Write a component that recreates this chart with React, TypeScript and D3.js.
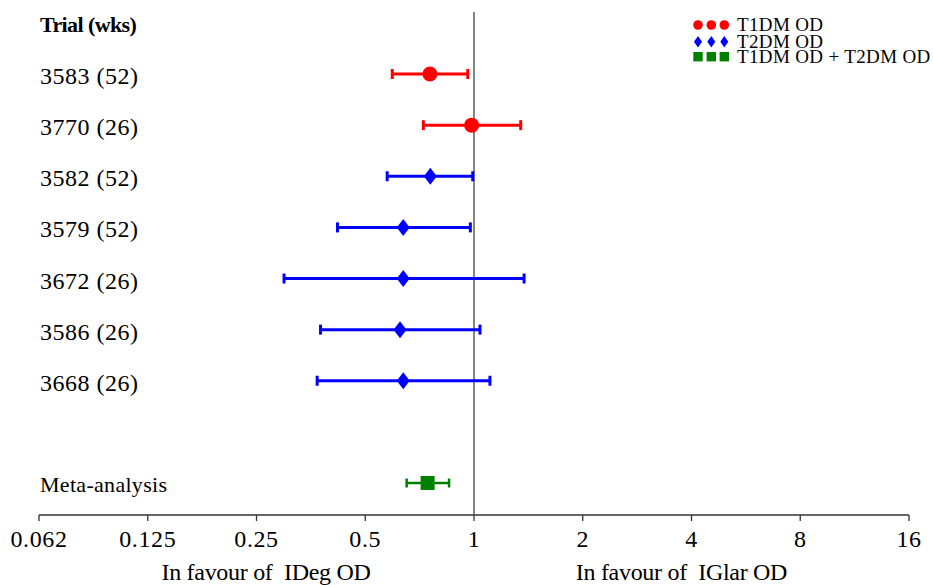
import React from "react";
import * as d3 from "d3";

const trials = ["3583 (52)", "3770 (26)", "3582 (52)", "3579 (52)", "3672 (26)", "3586 (26)", "3668 (26)"];
const groups = ["T1DM", "T1DM", "T2DM", "T2DM", "T2DM", "T2DM", "T2DM"];
const estimates = [0.755, 0.985, 0.757, 0.637, 0.637, 0.624, 0.637];
const lowerCI = [0.594, 0.724, 0.575, 0.419, 0.298, 0.376, 0.368];
const upperCI = [0.961, 1.347, 0.992, 0.977, 1.376, 1.039, 1.107];

const metaLabel = "Meta-analysis";
const metaEstimate = 0.744;
const metaLower = 0.651;
const metaUpper = 0.853;

const tickValues = [0.0625, 0.125, 0.25, 0.5, 1, 2, 4, 8, 16];
const tickLabels = ["0.062", "0.125", "0.25", "0.5", "1", "2", "4", "8", "16"];

const legendLabels = ["T1DM OD", "T2DM OD", "T1DM OD + T2DM OD"];

const W = 933;
const H = 585;
const FONT = "'Liberation Serif', 'Times New Roman', serif";
const RED = "#ff0000";
const BLUE = "#0000ff";
const GREEN = "#008000";

export default function App() {
  const x = d3.scaleLog().base(2).domain([0.0625, 16]).range([39, 909]);
  const y = d3.scaleLinear().domain([-1, 8]).range([22.9, 483]);
  const axisY = 515;
  const metaRow = 8;

  const diamond = (cx: number, cy: number, hw: number, hh: number) =>
    `M${cx},${cy - hh}L${cx + hw},${cy}L${cx},${cy + hh}L${cx - hw},${cy}Z`;

  const errorBar = (lo: number, hi: number, cy: number, color: string, sw: number, capH: number, key: string) => (
    <g key={key}>
      <line x1={x(lo)} x2={x(hi)} y1={cy} y2={cy} stroke={color} strokeWidth={sw} />
      <line x1={x(lo)} x2={x(lo)} y1={cy - capH / 2} y2={cy + capH / 2} stroke={color} strokeWidth={sw} />
      <line x1={x(hi)} x2={x(hi)} y1={cy - capH / 2} y2={cy + capH / 2} stroke={color} strokeWidth={sw} />
    </g>
  );

  return (
    <svg width={W} height={H} style={{ position: "absolute", left: 0, top: 0, background: "#fff" }} fontFamily={FONT}>
      <rect width={W} height={H} fill="#fff" />
      {/* reference line at 1 */}
      <line x1={x(1)} x2={x(1)} y1={12} y2={axisY} stroke="#444" strokeWidth={1.3} />

      {/* header */}
      <text x={40} y={y(-1) + 9} fontSize={22} fontWeight="bold" letterSpacing={-0.6} fill="#000">Trial (wks)</text>

      {/* trial rows */}
      {trials.map((t, i) => {
        const cy = y(i);
        const color = groups[i] === "T1DM" ? RED : BLUE;
        return (
          <g key={t}>
            <text x={40} y={cy + 10} fontSize={24} letterSpacing={0.5} fill="#000">{t}</text>
            {errorBar(lowerCI[i], upperCI[i], cy, color, 3, 10, "e" + i)}
            {groups[i] === "T1DM" ? (
              <circle cx={x(estimates[i])} cy={cy} r={7.5} fill={RED} />
            ) : (
              <path d={diamond(x(estimates[i]), cy, 6.5, 8.5)} fill={BLUE} />
            )}
          </g>
        );
      })}

      {/* meta-analysis */}
      <text x={40} y={y(metaRow) + 9} fontSize={22} letterSpacing={0.3} fill="#000">{metaLabel}</text>
      {errorBar(metaLower, metaUpper, y(metaRow), GREEN, 2.5, 9, "meta")}
      <rect x={x(metaEstimate) - 7} y={y(metaRow) - 7} width={14} height={14} fill={GREEN} />

      {/* axis */}
      <line x1={x(0.0625)} x2={x(16)} y1={axisY} y2={axisY} stroke="#333" strokeWidth={1.3} />
      {tickValues.map((v, i) => (
        <g key={"t" + i}>
          <line x1={x(v)} x2={x(v)} y1={axisY} y2={axisY + 6} stroke="#333" strokeWidth={1.3} />
          <text x={x(v)} y={axisY + 32} fontSize={24} letterSpacing={0.6} textAnchor="middle" fill="#000">{tickLabels[i]}</text>
        </g>
      ))}
      <text x={266} y={580} fontSize={24} textAnchor="middle" letterSpacing={-0.3} fill="#000">{"In favour of\u00A0 IDeg OD"}</text>
      <text x={681.5} y={580} fontSize={24} textAnchor="middle" letterSpacing={-0.3} fill="#000">{"In favour of\u00A0 IGlar OD"}</text>

      {/* legend */}
      {legendLabels.map((lab, i) => {
        const ly = [25, 41.7, 56.7][i];
        const xs = [698, 711.3, 724.3];
        return (
          <g key={lab}>
            {xs.map((mx, j) =>
              i === 0 ? (
                <circle key={j} cx={mx} cy={ly} r={4.8} fill={RED} />
              ) : i === 1 ? (
                <path key={j} d={diamond(mx, ly, 4, 5.8)} fill={BLUE} />
              ) : (
                <rect key={j} x={mx - 4.7} y={ly - 4.7} width={9.4} height={9.4} fill={GREEN} />
              )
            )}
            <text x={737} y={ly + 6} fontSize={19} letterSpacing={0.35} fill="#000">{lab}</text>
          </g>
        );
      })}
    </svg>
  );
}
